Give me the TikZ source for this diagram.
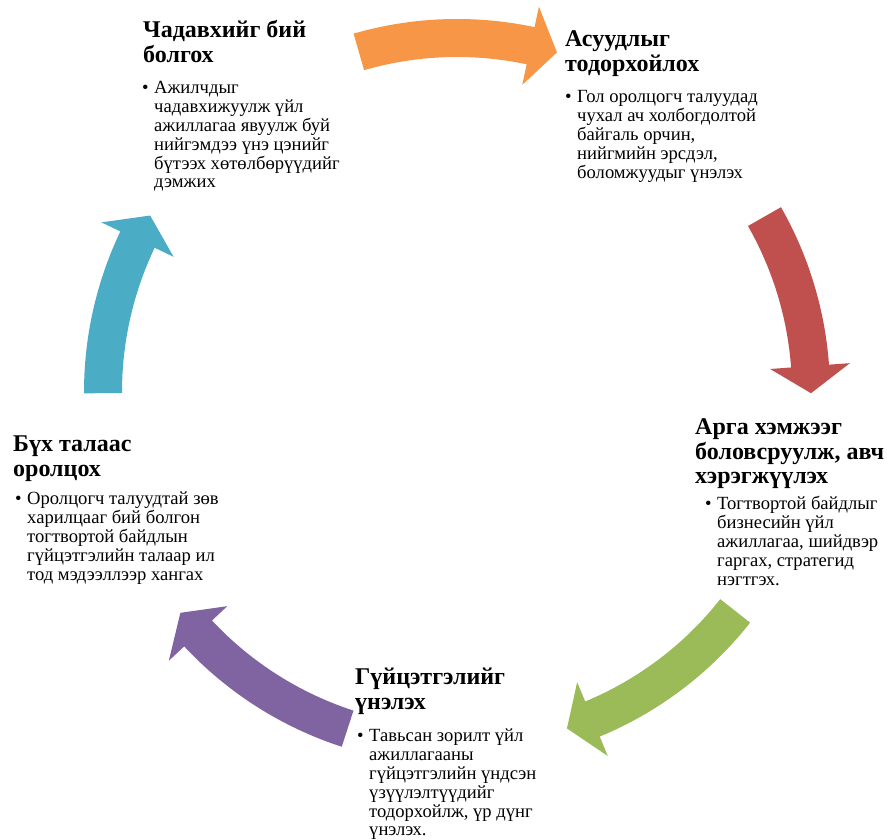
\documentclass[tikz,border=0pt]{standalone}
\usepackage{fontspec}
\setmainfont{Liberation Serif}
\usepackage{tikz}
\usepackage{xcolor}
\definecolor{cycle-orange}{HTML}{F79646}
\definecolor{cycle-red}{HTML}{C0504D}
\definecolor{cycle-green}{HTML}{9BBB59}
\definecolor{cycle-purple}{HTML}{8064A2}
\definecolor{cycle-blue}{HTML}{4BACC6}
\tikzset{
    step-title/.style = {anchor=base west, inner sep=0pt, font=\fontsize{24}{24.5}\selectfont\bfseries},
    step-text/.style = {anchor=base west, inner sep=0pt, font=\fontsize{18.6}{18.8}\selectfont},
}
% bullet paragraph with hanging indent
\newcommand{\bulletlines}[1]{\parbox[t]{260pt}{\hangindent=12pt\hangafter=1\noindent\makebox[12pt][l]{\textbullet}#1}}
\newcommand{\titlelines}[1]{\parbox[t]{260pt}{\raggedright #1}}
% curved arrow on the ring: colour, tail angle, tip angle
\newcommand{\cyclearrow}[3]{%
    \fill[#1] (#2:373) arc[start angle=#2, end angle={#3+4.4}, radius=373]
        -- ({#3+4.4}:394) -- (#3:354) -- ({#3+4.4}:314) -- ({#3+4.4}:335)
        arc[start angle={#3+4.4}, end angle=#2, radius=335] -- cycle;}

\begin{document}
\begin{tikzpicture}[x=1pt, y=1pt]
\useasboundingbox (0,0) rectangle (887,840);

\begin{scope}[shift={(457,448)}]
\cyclearrow{cycle-orange}{106.1}{73.6}
\cyclearrow{cycle-red}{29.7}{-0.2}
\cyclearrow{cycle-green}{-38.2}{-71.9}
\cyclearrow{cycle-purple}{-108}{-141.4}
\cyclearrow{cycle-blue}{180.2}{150.1}
\end{scope}

\node[step-title] (capacity-title) at (143,802) {\titlelines{Чадавхийг бий\\болгох}};
\node[step-text] (capacity-text) at (142,746) {\bulletlines{Ажилчдыг\\чадавхижуулж үйл\\ажиллагаа явуулж буй\\нийгэмдээ үнэ цэнийг\\бүтээх хөтөлбөрүүдийг\\дэмжих}};

\node[step-title] (issue-title) at (565,793) {\titlelines{Асуудлыг\\тодорхойлох}};
\node[step-text] (issue-text) at (565,737) {\bulletlines{Гол оролцогч талуудад\\чухал ач холбогдолтой\\байгаль орчин,\\нийгмийн эрсдэл,\\боломжуудыг үнэлэх}};

\node[step-title] (action-title) at (695,405) {\titlelines{Арга хэмжээг\\боловсруулж, авч\\хэрэгжүүлэх}};
\node[step-text] (action-text) at (705,330) {\bulletlines{Тогтвортой байдлыг\\бизнесийн үйл\\ажиллагаа, шийдвэр\\гаргах, стратегид\\нэгтгэх.}};

\node[step-title] (review-title) at (355,155) {\titlelines{Гүйцэтгэлийг\\үнэлэх}};
\node[step-text] (review-text) at (357,98) {\bulletlines{Тавьсан зорилт үйл\\ажиллагааны\\гүйцэтгэлийн үндсэн\\үзүүлэлтүүдийг\\тодорхойлж, үр дүнг\\үнэлэх.}};

\node[step-title] (engage-title) at (13,388) {\titlelines{Бүх талаас\\оролцох}};
\node[step-text] (engage-text) at (15,335) {\bulletlines{Оролцогч талуудтай зөв\\харилцааг бий болгон\\тогтвортой байдлын\\гүйцэтгэлийн талаар ил\\тод мэдээллээр хангах}};
\end{tikzpicture}
\end{document}
